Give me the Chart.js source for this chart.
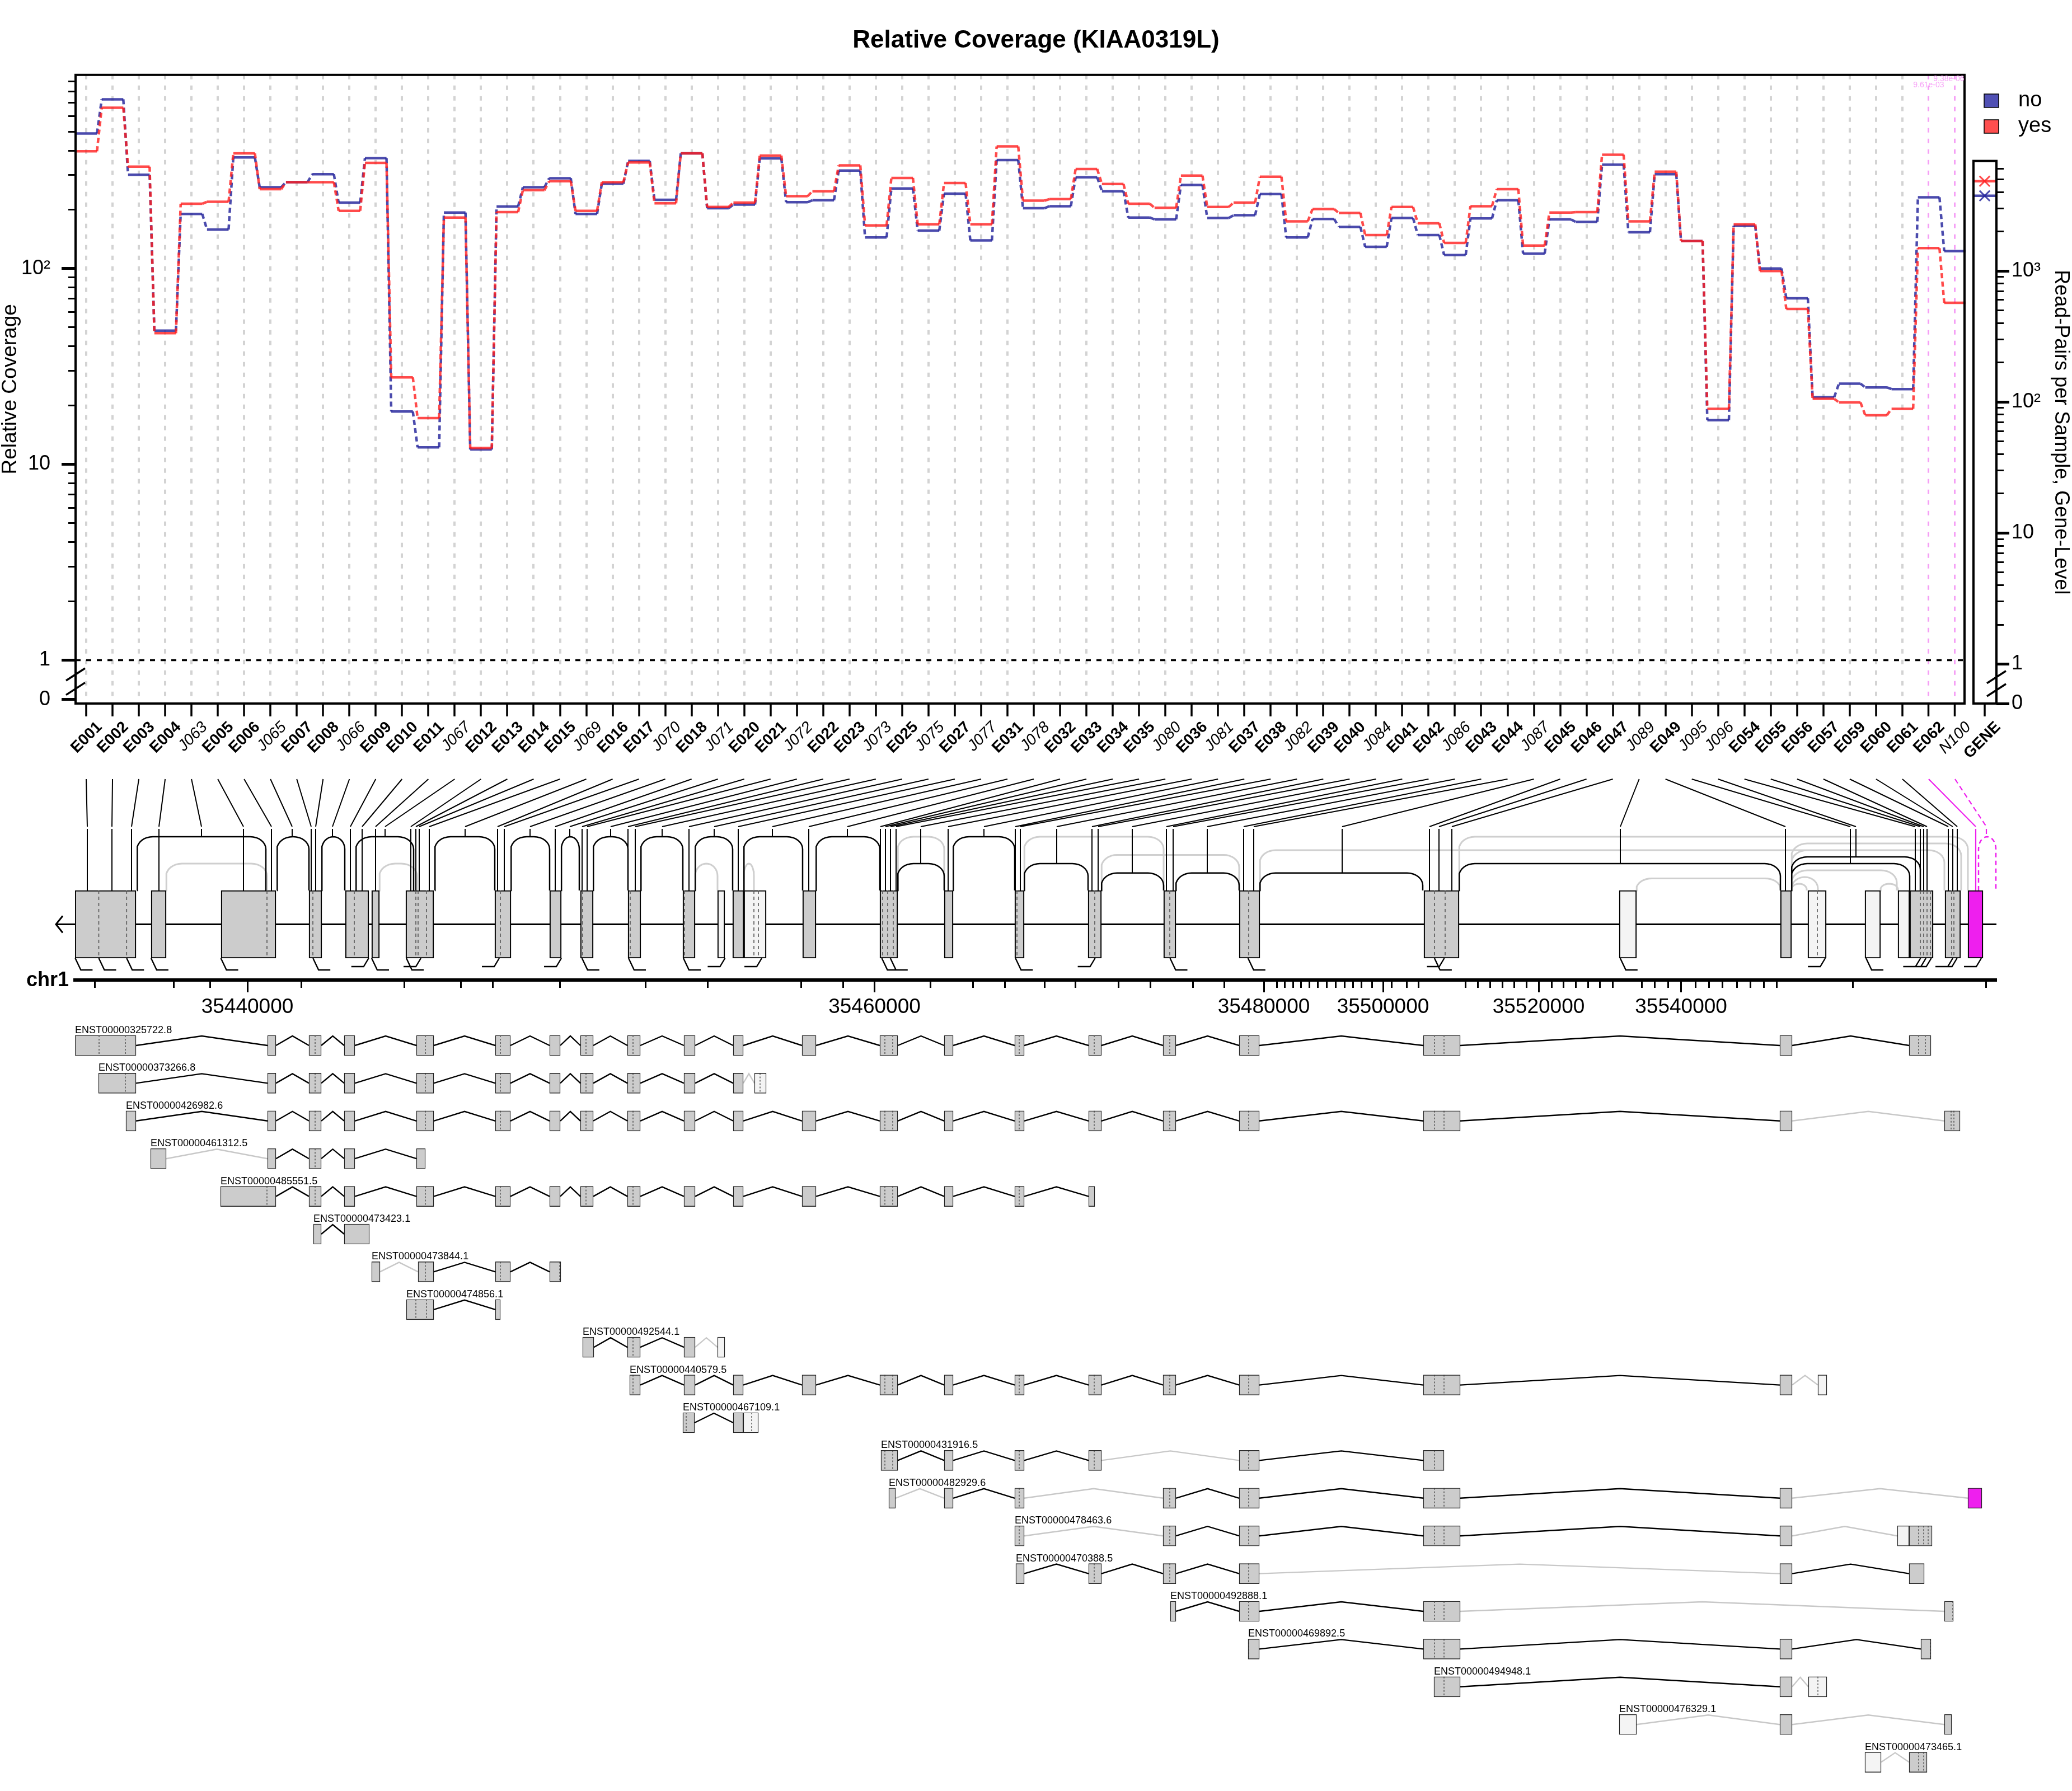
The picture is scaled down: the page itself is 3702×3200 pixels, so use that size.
<!DOCTYPE html>
<html><head><meta charset="utf-8">
<script src="https://cdn.jsdelivr.net/npm/chart.js@4.4.1/dist/chart.umd.min.js"></script>
<style>
html,body{margin:0;padding:0;background:#fff;}
#wrap{position:relative;width:3702px;height:3200px;background:#fff;overflow:hidden;}
#c1{position:absolute;left:0;top:0;width:3702px;height:1380px;}
#c2{position:absolute;left:0;top:1380px;width:3702px;height:1820px;}
</style></head><body>
<div id="wrap">
<canvas id="c1" width="3702" height="1380"></canvas>
<canvas id="c2" width="3702" height="1820"></canvas>
</div>
<script>
// ================= DATA =================
const featureNames = ['E001','E002','E003','E004','J063','E005','E006','J065','E007','E008',
 'J066','E009','E010','E011','J067','E012','E013','E014','E015','J069',
 'E016','E017','J070','E018','J071','E020','E021','J072','E022','E023',
 'J073','E025','J075','E027','J077','E031','J078','E032','E033','E034',
 'E035','J080','E036','J081','E037','E038','J082','E039','E040','J084',
 'E041','E042','J086','E043','E044','J087','E045','E046','E047','J089',
 'E049','J095','J096','E054','E055','E056','E057','E059','E060','E061',
 'E062','N100'];
const geneLabel = 'GENE';
const coverageNo = [489,731,301,48.1,190,158,369,260,276,303,
 217,366,18.6,12.2,193,11.9,207,260,289,190,
 271,354,224,387,203,212,365,218,223,316,
 144,256,156,241,139,358,203,208,292,248,
 182,178,267,181,187,240,144,179,163,129,
 181,148,117,180,223,119,178,173,339,153,
 303,138,16.8,165,100,70.4,22.0,25.8,24.7,24.2,
 231,122.5];
const coverageYes = [397,662,331,46.7,214,219,387,254,276,276,
 197,346,27.8,17.2,182,12.1,194,251,279,197,
 276,348,215,387,206,217,377,234,248,336,
 166,290,168,273,168,420,222,226,322,270,
 214,204,298,206,217,294,174,201,192,148,
 206,170,135,208,254,131,193,194,381,174,
 312,138,19.2,168,97,62.1,21.6,20.7,17.8,19.2,
 127,66.8];
const geneReadPairsNo = 3740;
const geneReadPairsYes = 4830;
const significantFeatures = ['E062','N100'];
const pValueLabels = ['9.61e-03','9.38e-06'];
const leftMajorTicks = [1,10,100];
const leftTickText = ['1','10','10\u00B2'];
const rightMajorTicks = [1,10,100,1000];
const rightTickText = ['1','10','10\u00B2','10\u00B3'];

// gene model (positions along the compressed gene-model axis)
const modelExons = [
 [134,243,'k',[176.5,226.3]],[270,297,'k',[]],[395,493,'k',[477]],[552,575,'k',[559]],
 [617,659,'k',[633]],[664,678,'k',[]],[725,775,'k',[743,747,762]],[884,913,'k',[894]],
 [982,1003,'k',[]],[1037,1060,'k',[1041]],[1122,1145,'k',[1126]],[1220,1242,'k',[1223]],
 [1282,1295,'n',[]],[1309,1329,'k',[]],[1329,1369,'n',[1347,1355]],[1434,1458,'k',[]],
 [1572,1604,'k',[1577,1586,1596]],[1687,1703,'k',[]],[1813,1830,'k',[1817]],
 [1944,1968,'k',[1956]],[2079,2101,'k',[2090]],[2214,2251,'k',[2231]],
 [2544,2607,'k',[2563,2582]],[2893,2924,'n',[]],[3181,3201,'k',[]],[3230,3263,'n',[3247]],
 [3332,3360,'n',[]],[3391,3412,'n',[]],[3412,3454,'k',[3431,3437,3443,3449]],
 [3475,3503,'k',[3487,3491]],[3516,3543,'s',[]]
];
// feature-boundary markers under the gene model: position, direction (+1 right / -1 left)
const boundaryMarks = [
 [134.4,1],[176.5,1],[226.3,1],[269.9,1],[394.6,1],[559.2,1],[658.7,-1],[664,1],[726,1],[752,-1],
 [892,-1],[1003,-1],[1039.8,1],[1123,1],[1221,1],[1295.4,-1],[1361,-1],[1575.5,1],[1590.8,1],
 [1814.3,1],[1956.6,-1],[2090.5,1],[2229.8,1],[2580.5,-1],[2562.9,1],[2894.8,1],[3261.2,-1],
 [3334,1],[3450.6,-1],[3441,-1],[3431.4,-1],[3496.6,-1],[3489,-1],[3540,-1]
];
// splice junctions: start, end, arc level, kind, tested feature name
const junctions = [
 [245,475,0,'k','J063'],[297,477,4,'n',''],[495,552,0,'k','J065'],[575,616,0,'k','J066'],
 [636,739,0,'k','J067'],[678,745,4,'n',''],[777,884,0,'k','J069'],[913,982,0,'k','J070'],
 [1003,1035,0,'k','J071'],[1060,1122,0,'k','J072'],[1145,1220,0,'k','J073'],[1242,1282,4,'n',''],
 [1242,1309,0,'k','J075'],[1329,1347,4,'n',''],[1329,1434,0,'k','J077'],[1458,1572,0,'k','J078'],
 [1604,1687,0,'n',''],[1604,1687,4,'k','J080'],[1703,1813,0,'k','J081'],[1830,2079,0,'n',''],
 [1830,1944,4,'k','J082'],[1968,2214,2.7,'n',''],[1968,2079,5.4,'k','J084'],[2101,2214,5.4,'k','J086'],
 [2251,2542,5.4,'k','J087'],[2251,3474,2,'n',''],[2607,3516,0,'n',''],[2607,3181,4,'k','J089'],
 [2924,3181,6.2,'n',''],[3201,3412,4,'k','J095'],[3201,3431,3,'k','J096'],[3201,3504,1,'n',''],
 [3201,3474,2,'n',''],[3201,3389,5,'n',''],[3201,3248,6,'n',''],[3201,3228,7,'n',''],
 [3360,3391,7,'n',''],[3535,3566,0,'s','N100']
];
// where each tested feature sits on the gene-model axis
const labelFeatureX = [156,200,235,284,360,435,485,522,556,564,
 594,626,647,671,688,734,743,749,767,831,
 889,901,947,992,1018,1040,1049,1091,1122,1135,
 1183,1231,1276,1319,1380,1445,1514,1573,1582,1591,
 1601,1645,1694,1758,1814,1823,1888,1951,1962,2023,
 2084,2096,2157,2222,2240,2398,2554,2571,2594,2895,
 3190,3306,3316,3422,3431,3437,3443,3481,3489,3497,
 3530,3549];
const genomicMajorPos = [442,1562.5,2258,2471,2749,3003.6];
const genomicMajorLabels = ['35440000','35460000','35480000','35500000','35520000','35540000'];
const genomicMinorPos = [169,310.5,375.5,538.5,722,823,880.6,1000.7,1153.8,1264.8,1431.6,1506.6,
 1662.8,1738.5,1795.9,1866.3,1921.4,1998,2055.3,2131.9,2187.7,2281,2295,2310,2324,2339,2354.6,
 2370,2386.6,2402,2417,2432.6,2451.8,2486,2513.8,2534.5,2618.8,2640.3,2662.5,2684,2705.4,2727.7,
 2772,2793.6,2815,2837.3,2858.7,2881,2933,2956,2980.6,3029,3053.5,3077.3,3103.3,3127,3151.6,
 3174.6,3310,3548];
// transcript exon columns shared by several transcripts
const txCols = {
 a1:[134,243,'k',[177,224]], a2:[478,493,'k'], a3:[552,574,'k',[563]], a4:[615,634,'k'],
 a5:[744,775,'k',[760]], a6:[885,912,'k',[894]], a7:[982,1001,'k'], a8:[1037,1060,'k',[1047]],
 a9:[1121,1144,'k',[1131]], a10:[1222,1242,'k'], a11:[1310,1328,'k'], a12:[1433,1458,'k'],
 a13:[1572,1604,'k',[1581,1595]], a14:[1687,1703,'k'], a15:[1813,1830,'k',[1821]],
 a16:[1945,1968,'k',[1955]], a17:[2078,2101,'k',[2090]], a18:[2214,2250,'k',[2231]],
 a19:[2543,2609,'k',[2563,2580]], a20:[3180,3202,'k'], a21:[3411,3450,'k',[3428,3440]]
};
const transcriptIds = ['ENST00000325722.8','ENST00000373266.8','ENST00000426982.6','ENST00000461312.5',
 'ENST00000485551.5','ENST00000473423.1','ENST00000473844.1','ENST00000474856.1','ENST00000492544.1',
 'ENST00000440579.5','ENST00000467109.1','ENST00000431916.5','ENST00000482929.6','ENST00000478463.6',
 'ENST00000470388.5','ENST00000492888.1','ENST00000469892.5','ENST00000494948.1','ENST00000476329.1',
 'ENST00000473465.1'];
const transcriptExons = [
 ['a1','a2','a3','a4','a5','a6','a7','a8','a9','a10','a11','a12','a13','a14','a15','a16','a17','a18','a19','a20','a21'],
 [[176,243,'k',[224]],'a2','a3','a4','a5','a6','a7','a8','a9','a10','a11',[1348,1369,'n',[1358]]],
 [[225,243,'k'],'a2','a3','a4','a5','a6','a7','a8','a9','a10','a11','a12','a13','a14','a15','a16','a17','a18','a19','a20',[3474,3502,'k',[3486,3491]]],
 [[269,297,'k'],'a2','a3','a4',[744,760,'k']],
 [[394,493,'k',[477]],'a3','a4','a5','a6','a7','a8','a9','a10','a11','a12','a13','a14','a15',[1945,1956,'k']],
 [[560,574,'k'],[615,660,'k']],
 [[664,679,'k'],[747,775,'k',[760]],'a6',[982,1002,'k',[1000]]],
 [[726,775,'k',[743,762]],[885,894,'k']],
 [[1041,1061,'k'],'a9','a10',[1282,1295,'n']],
 [[1125,1144,'k',[1131]],'a10','a11','a12','a13','a14','a15','a16','a17','a18','a19','a20',[3248,3264,'n']],
 [[1220,1241,'k',[1226]],[1310,1328,'k'],[1328,1355,'n',[1343]]],
 [[1574,1604,'k',[1581,1595]],'a14','a15','a16','a18',[2543,2580,'k',[2563]]],
 [[1588,1600,'k'],'a14','a15','a17','a18','a19','a20',[3516,3541,'s']],
 ['a15','a17','a18','a19','a20',[3390,3411,'n'],[3411,3452,'k',[3428,3437,3445]]],
 [[1815,1830,'k'],'a16','a17','a18','a20',[3411,3438,'k']],
 [[2091,2101,'k'],'a18','a19',[3474,3490,'k',[3489]]],
 [[2230,2250,'k',[2231]],'a19','a20',[3432,3450,'k',[3449]]],
 [[2562,2609,'k',[2580]],'a20',[3231,3264,'n',[3248]]],
 [[2893,2924,'n'],'a20',[3474,3487,'k']],
 [[3332,3361,'n'],[3411,3443,'k',[3428,3437]]]
];
const transcriptIntrons = ['kkkkkkkkkkkkkkkkkkkk','kkkkkkkkkkn','kkkkkkkkkkkkkkkkkkkn','nkkk',
 'kkkkkkkkkkkkkk','k','nkk','k','kkn','kkkkkkkkkkkn','k-','kkknk','nknkkkn','nkkkn-','kkknk',
 'kkn','kkk','kn','nn','n'];

// ================= CHART 1 : coverage =================
Chart.defaults.font.family = "'Liberation Sans', Arial, Helvetica, sans-serif";
Chart.defaults.color = '#000';

const N = featureNames.length;
const allLabels = featureNames.concat([geneLabel]);
const X_MIN = 0.596, X_MAX = 73.574, BOX_R = 72.361, GENE_L = 72.701, GENE_X = 73.127;
const HALF = 0.41;
const Y_MIN = 0.63, Y_MAX = 974;
const Y2_MIN = 0.5, Y2_MAX = 31300, Y2_TOP = 6900;
const BLUE = 'rgba(35,35,155,0.82)', RED = 'rgba(255,30,30,0.8)';

function stepData(vals){
  const d = [];
  vals.forEach((v,i)=>{ d.push({x:i+1-HALF,y:v}); d.push({x:i+1+HALF,y:v}); });
  return d;
}
const connectorDash = c => (c.p0DataIndex % 2 === 1) ? [9,6] : undefined;
function minorLog(lo, hi){ const out=[]; for(let d=lo; d<hi; d*=10){ for(let k=2;k<=9;k++){ if(k*d<hi) out.push(k*d);} } return out; }
function fmtLabel(v, vals, txt, zeroVal){
  if (Math.abs(v-zeroVal) < 1e-9) return '0';
  for (let i=0;i<vals.length;i++) if (Math.abs(v-vals[i])/vals[i] < 1e-6) return txt[i];
  return '';
}
const sigIdx = significantFeatures.map(n => featureNames.indexOf(n));

const frame1 = {
  id:'frame1',
  afterDraw(chart){
    const {ctx, chartArea:a, scales} = chart;
    const x = scales.x, y = scales.y, y2 = scales.y2;
    ctx.save();
    ctx.strokeStyle = '#000'; ctx.lineWidth = 4;
    const r = x.getPixelForValue(BOX_R);
    ctx.strokeRect(a.left, a.top, r - a.left, a.bottom - a.top);
    const gl = x.getPixelForValue(GENE_L), gt = y2.getPixelForValue(Y2_TOP);
    ctx.strokeRect(gl, gt, a.right - gl, a.bottom - gt);
    // broken-axis marks
    ctx.lineWidth = 3.5;
    const slash = (cx, cy) => { ctx.beginPath(); ctx.moveTo(cx-17, cy+11); ctx.lineTo(cx+17, cy-11); ctx.stroke(); };
    const y1 = y.getPixelForValue(1);
    slash(a.left, y1 + 0.33*(a.bottom-y1)); slash(a.left, y1 + 0.66*(a.bottom-y1));
    const y21 = y2.getPixelForValue(1);
    slash(a.right, y21 + 0.33*(a.bottom-y21)); slash(a.right, y21 + 0.66*(a.bottom-y21));
    // p-values
    ctx.fillStyle = '#f7a3f7'; ctx.font = "14px 'Liberation Sans', Arial, sans-serif";
    ctx.textAlign = 'center'; ctx.textBaseline = 'middle';
    ctx.fillText(pValueLabels[0], x.getPixelForValue(sigIdx[0]+1), a.top + 18);
    ctx.fillText(pValueLabels[1], x.getPixelForValue(sigIdx[1]+1) - 11, a.top + 7);
    // legend
    const lx = a.right - 22;
    const items = [['no','#5050b4', 168],['yes','#ff4f4f', 214]];
    ctx.font = "38px 'Liberation Sans', Arial, sans-serif"; ctx.textAlign='left'; ctx.textBaseline='middle';
    items.forEach(([t,c,yy]) => {
      ctx.fillStyle = c; ctx.fillRect(lx, yy, 26, 24);
      ctx.strokeStyle = '#000'; ctx.lineWidth = 1.5; ctx.strokeRect(lx, yy, 26, 24);
      ctx.fillStyle = '#000'; ctx.fillText(t, lx + 61, yy + 12);
    });
    // right axis title
    ctx.save();
    ctx.translate(3682, (gt + a.bottom)/2);
    ctx.rotate(Math.PI/2);
    ctx.font = "36px 'Liberation Sans', Arial, sans-serif"; ctx.textAlign='center'; ctx.textBaseline='middle';
    ctx.fillText('Read-Pairs per Sample, Gene-Level', 0, 0);
    ctx.restore();
    ctx.restore();
  }
};

const chart1 = new Chart(document.getElementById('c1'), {
  type:'line',
  data:{ datasets:[
    {label:'yes', data:stepData(coverageYes), borderColor:RED, borderWidth:4.5, pointRadius:0, order:1,
     segment:{borderDash:connectorDash}, yAxisID:'y', fill:false},
    {label:'no', data:stepData(coverageNo), borderColor:BLUE, borderWidth:4.5, pointRadius:0, order:2,
     segment:{borderDash:connectorDash}, yAxisID:'y', fill:false},
    {label:'one', data:[{x:X_MIN,y:1},{x:BOX_R,y:1}], borderColor:'#000', borderWidth:3.5, borderDash:[9,10],
     pointRadius:0, order:3, yAxisID:'y'},
    {label:'gene yes', data:[{x:GENE_L,y:geneReadPairsYes},{x:GENE_X,y:geneReadPairsYes},{x:X_MAX,y:geneReadPairsYes}],
     borderColor:RED, borderWidth:4.5, yAxisID:'y2', pointStyle:'crossRot',
     pointRadius:c=>c.dataIndex===1?13:0, pointBorderWidth:3, pointBorderColor:RED, order:1},
    {label:'gene no', data:[{x:GENE_L,y:geneReadPairsNo},{x:GENE_X,y:geneReadPairsNo},{x:X_MAX,y:geneReadPairsNo}],
     borderColor:BLUE, borderWidth:4.5, yAxisID:'y2', pointStyle:'crossRot',
     pointRadius:c=>c.dataIndex===1?13:0, pointBorderWidth:3, pointBorderColor:BLUE, order:2}
  ]},
  options:{
    responsive:false, animation:false, devicePixelRatio:1, events:[],
    layout:{padding:0, autoPadding:false},
    plugins:{
      legend:{display:false}, tooltip:{enabled:false},
      title:{display:true, text:'Relative Coverage (KIAA0319L)', color:'#000',
             font:{size:44, weight:'bold'}, padding:{top:46, bottom:35}}
    },
    scales:{
      x:{type:'linear', min:X_MIN, max:X_MAX, offset:false,
         afterBuildTicks:s=>{ s.ticks = allLabels.map((n,i)=>({value: i<N ? i+1 : GENE_X})); },
         afterFit:s=>{ s.height = 123; },
         ticks:{autoSkip:false, minRotation:45, maxRotation:45, padding:3, labelOffset:24, color:'#000',
                callback:(v,i)=>allLabels[i],
                font:c=>{ const n = allLabels[c.index]||''; const b = n[0]==='E' || n===geneLabel;
                  return {size:28, weight:b?'bold':'normal', style:b?'normal':'italic'}; }},
         grid:{drawOnChartArea:true, drawTicks:true, tickLength:23, tickWidth:3.5, tickColor:'#000',
               color:c=>{ const i=c.index; if (i>=N) return 'rgba(0,0,0,0)'; if (sigIdx.includes(i)) return '#f5a0f5'; return '#d3d3d3'; },
               lineWidth:c=> sigIdx.includes(c.index) ? 3 : 4},
         border:{display:false, dash:[8,11]}},
      y:{type:'logarithmic', position:'left', min:Y_MIN, max:Y_MAX,
         afterBuildTicks:s=>{ s.ticks = [Y_MIN].concat(leftMajorTicks).map(v=>({value:v})); },
         afterFit:s=>{ s.width = 135; },
         ticks:{autoSkip:false, padding:20, color:'#000', font:{size:36},
                callback:v=>fmtLabel(v, leftMajorTicks, leftTickText, Y_MIN)},
         grid:{drawOnChartArea:false, tickLength:25, tickWidth:5, tickColor:'#000'},
         border:{display:false},
         title:{display:true, text:'Relative Coverage', color:'#000', font:{size:37, lineHeight:1.0}, padding:{top:0,bottom:0}}},
      yMinor:{type:'logarithmic', axis:'y', position:{x:X_MIN}, min:Y_MIN, max:Y_MAX,
         afterBuildTicks:s=>{ s.ticks = minorLog(1, Y_MAX).map(v=>({value:v})); },
         ticks:{display:false},
         grid:{drawOnChartArea:false, tickLength:13, tickWidth:3, tickColor:'#000'},
         border:{display:false}},
      y2:{type:'logarithmic', position:'right', min:Y2_MIN, max:Y2_MAX,
         afterBuildTicks:s=>{ s.ticks = [Y2_MIN].concat(rightMajorTicks).map(v=>({value:v})); },
         afterFit:s=>{ s.width = 135; },
         ticks:{autoSkip:false, padding:4, color:'#000', font:{size:36},
                callback:v=>fmtLabel(v, rightMajorTicks, rightTickText, Y2_MIN)},
         grid:{drawOnChartArea:false, tickLength:23, tickWidth:5, tickColor:'#000'},
         border:{display:false}},
      y2Minor:{type:'logarithmic', axis:'y', position:{x:X_MAX + 13/47.028}, min:Y2_MIN, max:Y2_MAX,
         afterBuildTicks:s=>{ s.ticks = minorLog(1, Y2_TOP).map(v=>({value:v})); },
         ticks:{display:false},
         grid:{drawOnChartArea:false, tickLength:13, tickWidth:3, tickColor:'#000'},
         border:{display:false}}
    }
  },
  plugins:[frame1]
});

// ================= CHART 2 : gene model & transcripts =================
const ROWPX = 67.4;
const R = px => (px - 1868) / ROWPX;        // reference layout helper (row units)
const Y_TOP = R(1380), Y_BOTTOM = R(3200);
const MODEL_MID = R(1651.5), MODEL_TOP = R(1591), MODEL_BOT = R(1712), AXIS_Y = R(1751);
const CON_TOP = R(1392), CON_MID = R(1477), CON_MID2 = R(1481);
const HOOK_LO = R(1733), HOOK_HI = R(1727);
const tierY = lvl => R(1495 + 12*lvl);
const TX_HALF = 18/ROWPX, INTRON_PEAK = 17/ROWPX;
const FILL = {k:'#cccccc', n:'#f4f4f4', s:'#ee1fee'};

const modelBars = modelExons.map(e=>({x:[e[0],e[1]], y:MODEL_MID, kind:e[2]}));
const dashPts = [];
modelExons.forEach(e=>(e[3]||[]).forEach(d=>{ dashPts.push({x:d,y:MODEL_TOP},{x:d,y:MODEL_BOT},{x:d,y:null}); }));
const hookPts = [];
boundaryMarks.forEach(([p, dir]) => {
  if (dir > 0) hookPts.push({x:p,y:MODEL_BOT},{x:p+10,y:HOOK_LO},{x:p+31,y:HOOK_LO},{x:p+31,y:null});
  else hookPts.push({x:p,y:MODEL_BOT},{x:p-9,y:HOOK_HI},{x:p-31,y:HOOK_HI},{x:p-31,y:null});
});
const txBars = [], txDashPts = [], intronK = [], intronN = [];
transcriptExons.forEach((list, r) => {
  const ex = list.map(e => typeof e === 'string' ? txCols[e] : e);
  ex.forEach((e, j) => {
    txBars.push({x:[e[0],e[1]], y:r, kind:e[2]});
    (e[3]||[]).forEach(d=>{ txDashPts.push({x:d,y:r-TX_HALF},{x:d,y:r+TX_HALF},{x:d,y:null}); });
    if (j < ex.length-1) {
      const t = transcriptIntrons[r][j];
      if (t === '-') return;
      const a = e[1], b = ex[j+1][0], m = (a+b)/2;
      (t === 'k' ? intronK : intronN).push({x:a,y:r},{x:m,y:r-INTRON_PEAK},{x:b,y:r},{x:b,y:null});
    }
  });
});
function arcPts(x1, x2, yTop, yBase){
  const rx = Math.min(28, (x2-x1)/2), ry = Math.min(22/ROWPX, (yBase-yTop)*0.85);
  const pts = [{x:x1,y:yBase}];
  for (let k=0;k<=8;k++){ const t=k/8*Math.PI/2; pts.push({x:x1+rx-rx*Math.cos(t), y:yTop+ry-ry*Math.sin(t)}); }
  for (let k=8;k>=0;k--){ const t=k/8*Math.PI/2; pts.push({x:x2-rx+rx*Math.cos(t), y:yTop+ry-ry*Math.sin(t)}); }
  pts.push({x:x2,y:yBase},{x:x2,y:null});
  return pts;
}
const arcK = [], arcN = [], arcS = [];
junctions.forEach(j => {
  const p = arcPts(j[0], j[1], tierY(j[2]), MODEL_TOP);
  (j[3]==='k' ? arcK : j[3]==='n' ? arcN : arcS).push(...p);
});
const baseline = [{x:112,y:MODEL_MID-15/ROWPX},{x:100,y:MODEL_MID},{x:112,y:MODEL_MID+15/ROWPX},{x:112,y:null},
                  {x:100,y:MODEL_MID},{x:3567,y:MODEL_MID}];

const text2 = {
  id:'text2',
  afterDraw(chart){
    const {ctx, chartArea:a, scales:{x,y}} = chart;
    ctx.save(); ctx.fillStyle = '#000';
    ctx.font = "18px 'Liberation Sans', Arial, sans-serif"; ctx.textAlign='left'; ctx.textBaseline='alphabetic';
    transcriptIds.forEach((id, r) => {
      const f = transcriptExons[r][0]; const e = typeof f === 'string' ? txCols[f] : f;
      ctx.fillText(id, x.getPixelForValue(e[0]), y.getPixelForValue(r) - 22);
    });
    ctx.font = "bold 36px 'Liberation Sans', Arial, sans-serif"; ctx.textAlign='right'; ctx.textBaseline='middle';
    ctx.fillText('chr1', a.left - 11, y.getPixelForValue(AXIS_Y) + 1);
    ctx.restore();
  }
};

const lineDs = (data, color, width, order, extra) => Object.assign({type:'line', data, borderColor:color, borderWidth:width,
  pointRadius:0, fill:false, tension:0, spanGaps:false, order, clip:false}, extra||{});

const chart2 = new Chart(document.getElementById('c2'), {
  type:'line',
  data:{ datasets:[
    lineDs(baseline, '#000', 3, 20),
    lineDs(arcN, '#cfcfcf', 3, 15),
    lineDs(arcK, '#000', 2.5, 14),
    lineDs(arcS, '#ee1fee', 2.5, 14, {borderDash:[8,6]}),
    {type:'bar', indexAxis:'y', data:modelBars, grouped:false, barThickness:121, borderWidth:2.2, borderColor:'#000',
     borderSkipped:false, backgroundColor:c=>FILL[(c.raw&&c.raw.kind)||'k'], order:10},
    lineDs(dashPts, '#555', 1.6, 5, {borderDash:[6,5]}),
    lineDs(intronN, '#c8c8c8', 2.4, 12),
    lineDs(intronK, '#000', 2.4, 11),
    {type:'bar', indexAxis:'y', data:txBars, grouped:false, barThickness:36, borderWidth:1.4, borderColor:'#222',
     borderSkipped:false, backgroundColor:c=>FILL[(c.raw&&c.raw.kind)||'k'], order:9},
    lineDs(txDashPts, '#333', 1.2, 4, {borderDash:[3,3]}),
    lineDs([], '#000', 2, 3),
    lineDs([], '#ee1fee', 2.2, 2),
    lineDs([], '#ee1fee', 2.2, 2, {borderDash:[9,6]}),
    lineDs(hookPts, '#000', 2.4, 6)
  ]},
  options:{
    responsive:false, animation:false, devicePixelRatio:1, events:[],
    layout:{padding:{left:134, right:135, top:0, bottom:0}, autoPadding:false},
    plugins:{legend:{display:false}, tooltip:{enabled:false}},
    scales:{
      x:{type:'linear', min:134, max:3567, offset:false, position:{y:AXIS_Y},
         afterBuildTicks:s=>{ s.ticks = genomicMinorPos.map(v=>({value:v})); },
         ticks:{display:false},
         grid:{drawOnChartArea:false, tickLength:11, tickWidth:3, tickColor:'#000'},
         border:{display:true, width:6, color:'#000'}},
      gx:{type:'linear', axis:'x', min:134, max:3567, offset:false, position:{y:AXIS_Y},
         afterBuildTicks:s=>{ s.ticks = genomicMajorPos.map(v=>({value:v})); },
         ticks:{autoSkip:false, maxRotation:0, minRotation:0, padding:5, font:{size:37}, color:'#000',
                callback:(v,i)=>genomicMajorLabels[i]},
         grid:{drawOnChartArea:false, tickLength:22, tickWidth:3, tickColor:'#000'},
         border:{display:false}},
      y:{type:'linear', min:Y_TOP, max:Y_BOTTOM, reverse:true, display:false, offset:false}
    }
  },
  plugins:[text2]
});

// connectors from the coverage-axis labels down to features on the gene model
(function(){
  const toModel = px => chart2.scales.x.getValueForPixel(px);
  const black = [], mag = [], magD = [];
  featureNames.forEach((n, i) => {
    const topX = toModel(chart1.scales.x.getPixelForValue(i+1));
    const fx = labelFeatureX[i];
    let target = MODEL_TOP;
    if (n[0] !== 'E') { const j = junctions.find(q => q[4] === n); if (j) target = tierY(j[2]); }
    const pts = [{x:topX,y:CON_TOP},{x:fx,y:CON_MID},{x:fx,y:null},{x:fx,y:CON_MID2},{x:fx,y:target},{x:fx,y:null}];
    if (significantFeatures.includes(n)) (n[0]==='E' ? mag : magD).push(...pts); else black.push(...pts);
  });
  const ds = chart2.data.datasets;
  ds[10].data = black; ds[11].data = mag; ds[12].data = magD;
  chart2.update('none');
})();
</script>
</body></html>
